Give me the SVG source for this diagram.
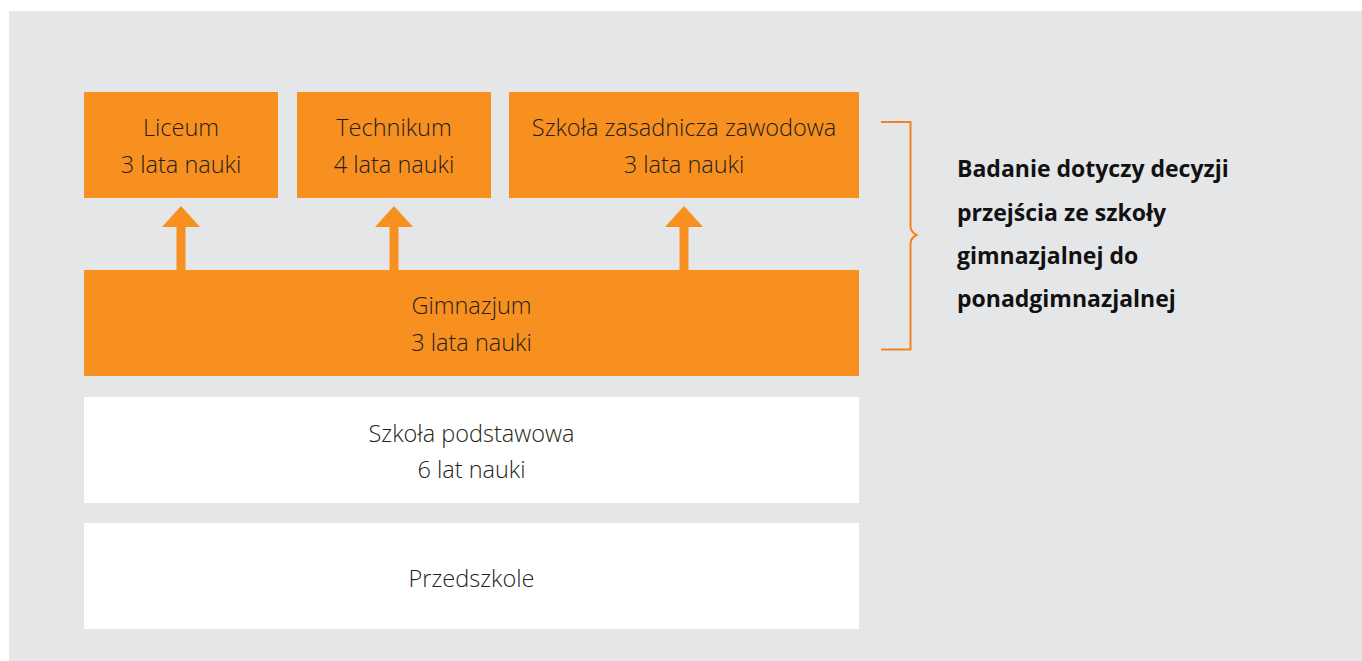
<svg xmlns="http://www.w3.org/2000/svg" width="1362" height="661" viewBox="0 0 1362 661">
<style>
.bg{fill:#e5e6e8}
.o{fill:#f7901e}
.w{fill:#ffffff}
.t{font-family:"Open Sans","Noto Sans",sans-serif;font-weight:300;font-size:23.5px;fill:#231f20;text-anchor:middle}
.b{font-family:"Open Sans","Noto Sans",sans-serif;font-weight:700;font-size:23px;fill:#111111}
.ar{fill:#f7901e}
</style>
<rect x="0" y="0" width="1362" height="661" fill="#ffffff"/>
<rect class="bg" x="9" y="11" width="1353" height="650"/>
<g id="liceum"><rect class="o" x="84" y="92" width="194" height="106"/><text class="t" x="181" y="136">Liceum</text><text class="t" x="181" y="172.5">3 lata nauki</text></g>
<g id="technikum"><rect class="o" x="297" y="92" width="194" height="106"/><text class="t" x="394" y="136">Technikum</text><text class="t" x="394" y="172.5">4 lata nauki</text></g>
<g id="zawodowa"><rect class="o" x="509" y="92" width="350" height="106"/><text class="t" x="684" y="136">Szkoła zasadnicza zawodowa</text><text class="t" x="684" y="172.5">3 lata nauki</text></g>
<g id="gimnazjum"><rect class="o" x="84" y="270" width="775" height="106"/><text class="t" x="471.5" y="313.5">Gimnazjum</text><text class="t" x="471.5" y="350.5">3 lata nauki</text></g>
<g id="podstawowa"><rect class="w" x="84" y="397" width="775" height="106"/><text class="t" x="471.5" y="441.5">Szkoła podstawowa</text><text class="t" x="471.5" y="478">6 lat nauki</text></g>
<g id="przedszkole"><rect class="w" x="84" y="523" width="775" height="106"/><text class="t" x="471.5" y="586.5">Przedszkole</text></g>
<g id="connectors">
<path class="ar" d="M181 206 L200 227 L185.5 227 L185.5 270 L176.5 270 L176.5 227 L162 227 Z"/>
<path class="ar" d="M394 206 L413 227 L398.5 227 L398.5 270 L389.5 270 L389.5 227 L375 227 Z"/>
<path class="ar" d="M684 206 L703 227 L688.5 227 L688.5 270 L679.5 270 L679.5 227 L665 227 Z"/>
</g>
<g id="brace"><path d="M881 122 H910.5 V227 Q911 232 916.5 235 Q911 238 910.5 243 V349.5 H881" fill="none" stroke="#f58220" stroke-width="2"/></g>
<g id="note">
<text class="b" x="957" y="177">Badanie dotyczy decyzji</text>
<text class="b" x="957" y="221">przejścia ze szkoły</text>
<text class="b" x="957" y="264">gimnazjalnej do</text>
<text class="b" x="957" y="306.5">ponadgimnazjalnej</text>
</g>
</svg>
